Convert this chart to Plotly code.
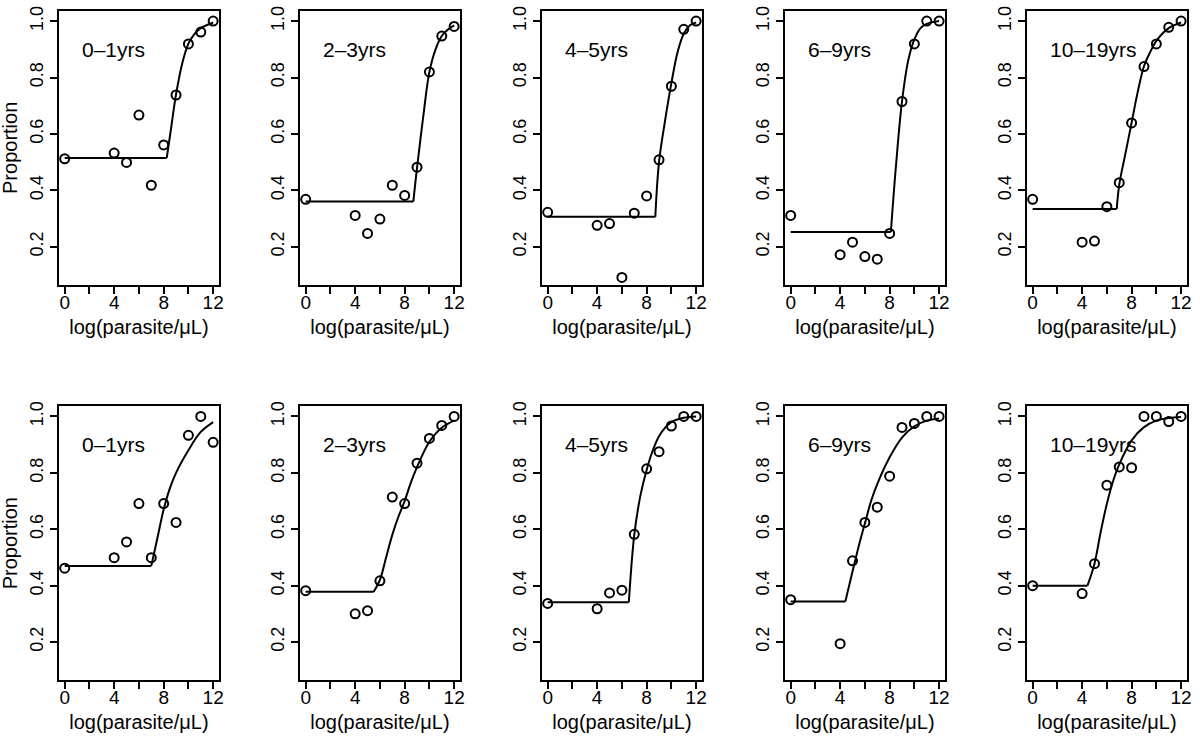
import plotly.graph_objects as go

# ---------------- data ----------------
x_vals = [0, 4, 5, 6, 7, 8, 9, 10, 11, 12]
age_groups = ["0–1yrs", "2–3yrs", "4–5yrs", "6–9yrs", "10–19yrs"]
x_tick_vals = [0, 2, 4, 6, 8, 10, 12]
x_tick_text = ["0", "", "4", "", "8", "", "12"]
y_tick_vals = [0.2, 0.4, 0.6, 0.8, 1.0]
y_tick_text = ["0.2", "0.4", "0.6", "0.8", "1.0"]

# observed proportions, top row
top_p1 = [0.512, 0.532, 0.499, 0.667, 0.418, 0.561, 0.738, 0.919, 0.961, 1.0]
top_p2 = [0.368, 0.311, 0.247, 0.298, 0.418, 0.382, 0.482, 0.820, 0.947, 0.981]
top_p3 = [0.322, 0.276, 0.282, 0.091, 0.319, 0.380, 0.508, 0.769, 0.971, 1.0]
top_p4 = [0.311, 0.172, 0.216, 0.165, 0.156, 0.247, 0.715, 0.919, 1.0, 1.0]
top_p5 = [0.368, 0.216, 0.220, 0.342, 0.427, 0.639, 0.839, 0.919, 0.978, 1.0]
# observed proportions, bottom row
bot_p1 = [0.462, 0.499, 0.555, 0.691, 0.499, 0.691, 0.624, 0.933, 1.0, 0.908]
bot_p2 = [0.382, 0.300, 0.311, 0.417, 0.714, 0.691, 0.834, 0.922, 0.968, 1.0]
bot_p3 = [0.337, 0.318, 0.374, 0.384, 0.582, 0.814, 0.875, 0.966, 1.0, 1.0]
bot_p4 = [0.350, 0.194, 0.488, 0.624, 0.678, 0.788, 0.961, 0.975, 1.0, 1.0]
bot_p5 = [0.400, 0.372, 0.478, 0.756, 0.821, 0.818, 1.0, 1.0, 0.982, 1.0]

# fitted curves: flat baseline level, then rising part
top_base = [0.515, 0.360, 0.306, 0.252, 0.334]
bot_base = [0.470, 0.378, 0.341, 0.344, 0.400]

top_rise_x = [
    [8.25, 8.6, 9, 9.5, 10, 10.5, 11, 12],
    [8.7, 9, 9.5, 10, 10.5, 11, 11.5, 12],
    [8.7, 9, 9.5, 10, 10.5, 11, 11.5, 12],
    [8.1, 8.5, 9, 9.5, 10, 10.5, 11, 12],
    [6.8, 7, 7.5, 8, 8.5, 9, 9.5, 10, 11, 12],
]
top_rise_y = [
    [0.515, 0.62, 0.74, 0.85, 0.92, 0.955, 0.975, 0.995],
    [0.360, 0.48, 0.66, 0.82, 0.90, 0.947, 0.970, 0.985],
    [0.306, 0.50, 0.65, 0.78, 0.89, 0.955, 0.985, 0.995],
    [0.252, 0.48, 0.715, 0.86, 0.935, 0.975, 0.99, 1.0],
    [0.334, 0.42, 0.53, 0.64, 0.75, 0.84, 0.89, 0.93, 0.975, 0.995],
]
bot_rise_x = [
    [7.0, 7.5, 8, 8.5, 9, 10, 11, 12],
    [5.5, 6, 6.5, 7, 7.5, 8, 8.5, 9, 10, 11, 12],
    [6.56, 7, 7.5, 8, 8.5, 9, 9.5, 10, 11, 12],
    [4.42, 5, 5.5, 6, 6.5, 7, 8, 9, 10, 11, 12],
    [4.43, 5, 5.5, 6, 6.5, 7, 8, 9, 10, 11, 12],
]
bot_rise_y = [
    [0.470, 0.57, 0.67, 0.745, 0.80, 0.88, 0.945, 0.98],
    [0.378, 0.42, 0.50, 0.58, 0.645, 0.70, 0.765, 0.82, 0.91, 0.96, 0.985],
    [0.341, 0.58, 0.72, 0.81, 0.88, 0.93, 0.96, 0.98, 0.995, 1.0],
    [0.344, 0.45, 0.54, 0.62, 0.70, 0.76, 0.855, 0.925, 0.965, 0.985, 0.993],
    [0.400, 0.478, 0.59, 0.69, 0.77, 0.83, 0.915, 0.962, 0.985, 0.994, 0.998],
]

# ---------------- layout geometry ----------------
W, H = 1200, 737
col_left = [59, 301, 544, 788, 1031]
col_w = 161
row_top = [6, 404]
row_h = 276
FONT = "Liberation Sans, Arial, Helvetica, sans-serif"

rows = [
    (top_base, top_rise_x, top_rise_y, [top_p1, top_p2, top_p3, top_p4, top_p5]),
    (bot_base, bot_rise_x, bot_rise_y, [bot_p1, bot_p2, bot_p3, bot_p4, bot_p5]),
]

fig = go.Figure()
layout_axes = {}
annotations = []

for r, (bases, rx, ry, pts) in enumerate(rows):
    for c in range(5):
        i = r * 5 + c + 1
        xa = "x" if i == 1 else f"x{i}"
        ya = "y" if i == 1 else f"y{i}"
        xkey = "xaxis" if i == 1 else f"xaxis{i}"
        ykey = "yaxis" if i == 1 else f"yaxis{i}"

        line = dict(color="black", width=2)
        fig.add_trace(go.Scatter(x=[0, rx[c][0]], y=[bases[c], bases[c]], mode="lines",
                                 line=line, xaxis=xa, yaxis=ya, hoverinfo="skip"))
        fig.add_trace(go.Scatter(x=rx[c], y=ry[c], mode="lines",
                                 line=dict(color="black", width=2, shape="spline", smoothing=1.0),
                                 xaxis=xa, yaxis=ya, hoverinfo="skip"))
        fig.add_trace(go.Scatter(x=x_vals, y=pts[c], mode="markers",
                                 marker=dict(symbol="circle-open", size=9, color="black",
                                             line=dict(width=2, color="black")),
                                 xaxis=xa, yaxis=ya))

        l = col_left[c]
        t = row_top[r]
        layout_axes[xkey] = dict(
            domain=[l / W, (l + col_w) / W], anchor=ya, range=[-0.48, 12.48],
            tickmode="array", tickvals=x_tick_vals, ticktext=x_tick_text,
            ticks="outside", ticklen=7, tickwidth=2, tickcolor="black",
            ticklabelstandoff=-8,
            showline=True, linewidth=2, linecolor="black", mirror=True,
            showgrid=False, zeroline=False,
            tickfont=dict(family=FONT, size=19, color="black"),
            title=dict(text="log(parasite/μL)", standoff=8,
                       font=dict(family=FONT, size=20, color="black")),
        )
        layout_axes[ykey] = dict(
            domain=[1 - (t + row_h) / H, 1 - t / H], anchor=xa, range=[0.064, 1.036],
            tickmode="array", tickvals=y_tick_vals, ticktext=y_tick_text, tickangle=-90,
            ticks="outside", ticklen=7, tickwidth=2, tickcolor="black",
            showline=True, linewidth=2, linecolor="black", mirror=True,
            showgrid=False, zeroline=False,
            tickfont=dict(family=FONT, size=18, color="black"),
        )
        annotations.append(dict(
            x=1.25, y=0.9, xref=xa, yref=ya, text=age_groups[c], showarrow=False,
            xanchor="left", yanchor="middle",
            font=dict(family=FONT, size=21, color="black"),
        ))
    annotations.append(dict(
        x=10 / W, y=1 - (row_top[r] + row_h / 2) / H, xref="paper", yref="paper",
        text="Proportion", textangle=-90, showarrow=False,
        xanchor="center", yanchor="middle",
        font=dict(family=FONT, size=20, color="black"),
    ))

fig.update_layout(
    width=W, height=H, margin=dict(l=0, r=0, t=0, b=0),
    paper_bgcolor="white", plot_bgcolor="white", showlegend=False,
    annotations=annotations, **layout_axes,
)

fig.write_html(
    "out.html",
    config={"displayModeBar": False},
    post_script="document.body.style.margin='0';document.body.style.padding='0';",
)
